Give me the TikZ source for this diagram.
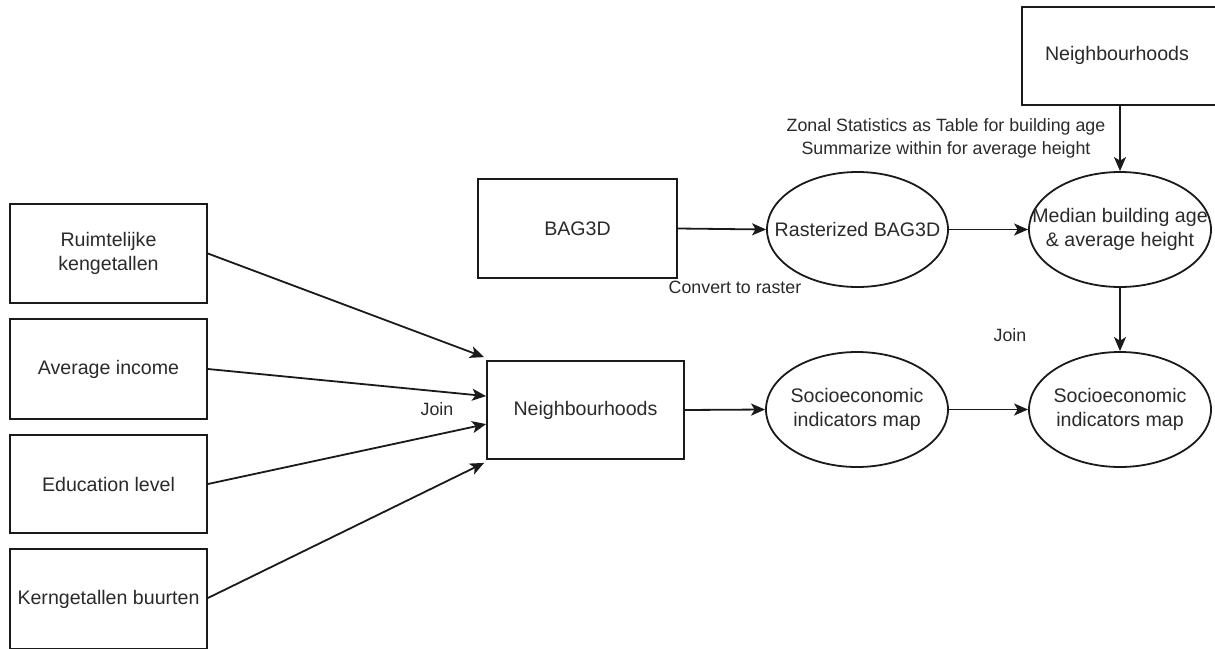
\documentclass[tikz,border=0pt]{standalone}
\usepackage{fontspec}
\setmainfont{Liberation Sans}
\usetikzlibrary{shapes.geometric,arrows.meta,calc}

\definecolor{linec}{HTML}{1A1A1A}
\definecolor{txtc}{HTML}{2A2A2A}
\newcommand\dgnodefont{\fontsize{19.6pt}{24pt}\selectfont}
\newcommand\dglabelfont{\fontsize{17.8pt}{23pt}\selectfont}

\begin{document}
\begin{tikzpicture}[x=1pt,y=-1pt,
  box/.style={draw=linec, line width=1.8pt, rectangle, minimum width=197pt,
    minimum height=98pt, inner sep=0pt},
  oval/.style={draw=linec, line width=1.8pt, ellipse, minimum width=182pt,
    minimum height=115pt, inner sep=0pt},
  txt/.style={text=txtc, font=\dgnodefont, align=center, inner sep=0pt},
  elbl/.style={text=txtc, font=\dglabelfont, align=center, inner sep=0pt},
  arr/.style={draw=linec, line width=1.8pt,
    -{Stealth[length=14pt, width=12pt, inset=3.5pt]}}
]
\fill[white] (0,0) rectangle (1215,648);
\clip (0,0) rectangle (1215,648);

% source tables on the left
\node[box, minimum height=99pt] (r1) at (108.5,253.5) {};
\node[txt] (r1t) at (r1) {Ruimtelijke\\kengetallen};
\node[box, minimum height=100pt] (r2) at (108.5,369) {};
\node[txt] (r2t) at (r2) {Average income};
\node[box] (r3) at (108.5,484) {};
\node[txt] (r3t) at (r3) {Education level};
\node[box, minimum height=100pt] (r4) at (108.5,599) {};
\node[txt] (r4t) at (r4) {Kerngetallen buurten};

% joined neighbourhoods and downstream maps
\node[box] (nb) at (585.5,410) {};
\node[txt] (nbt) at (nb) {Neighbourhoods};
\node[oval] (s1) at (857,409.5) {};
\node[txt] (s1t) at (s1) {Socioeconomic\\indicators map};
\node[oval] (s2) at (1120,409.5) {};
\node[txt] (s2t) at (s2) {Socioeconomic\\indicators map};

% building data branch
\node[box, minimum width=199pt, minimum height=99pt] (bag) at (577.5,228.5) {};
\node[txt] (bagt) at (bag) {BAG3D};
\node[oval, minimum width=181pt] (ras) at (857.5,229.5) {};
\node[txt] (rast) at (ras) {Rasterized BAG3D};
\node[oval] (med) at (1120,229.5) {};
\node[txt] (medt) at (med) {Median building age\\\& average height};
\node[box] (ntop) at (1120.5,56) {};
\node[txt] (ntopt) at (1117,55) {Neighbourhoods};

% connectors
\draw[arr] (r1.east) -- ($(nb.north west)+(-2,-3)$);
\draw[arr] (r2.east) -- ($(nb.north west)+(0,36)$);
\draw[arr] (r3.east) -- ($(nb.north west)+(0,64)$);
\draw[arr] ($(r4.east)+(0,-1)$) -- ($(nb.south west)+(-2,3)$);
\draw[arr] (nb.east) -- (s1.west);
\draw[arr] (s1.east) -- (s2.west);
\draw[arr] (bag.east) -- (ras.west);
\draw[arr] (ras.east) -- (med.west);
\draw[arr] (ntop.south -| med.north) -- (med.north);
\draw[arr] (med.south) -- (s2.north);

% edge labels
\node[elbl] (ljoin1) at (437,409) {Join};
\node[elbl] (lconv) at (735,287) {Convert to raster};
\node[elbl] (lzonal) at (946,138.5) {Zonal Statistics as Table for building age\\Summarize within for average height};
\node[elbl] (ljoin2) at (1010,335) {Join};
\end{tikzpicture}
\end{document}
